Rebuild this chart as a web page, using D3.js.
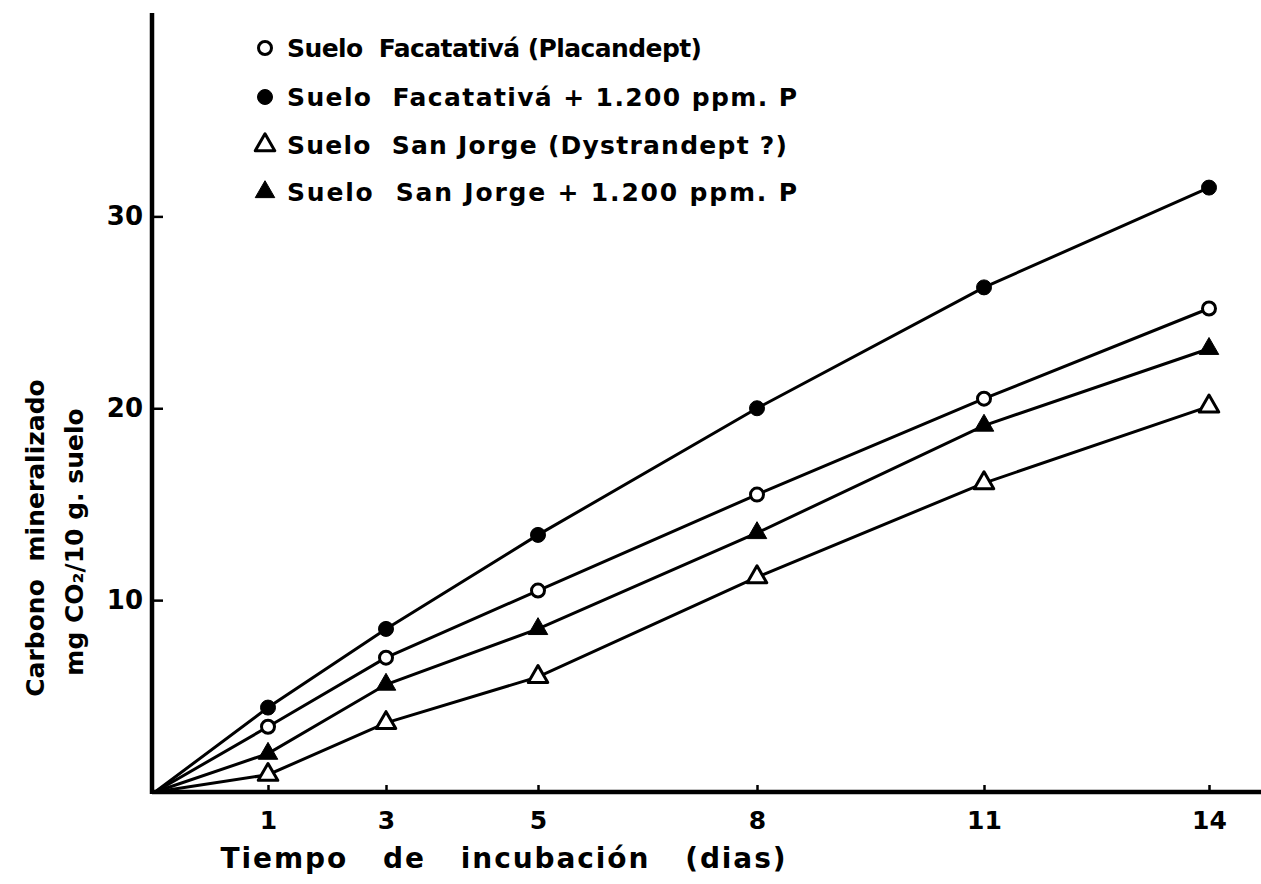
<!DOCTYPE html>
<html>
<head>
<meta charset="utf-8">
<script src="https://cdn.jsdelivr.net/npm/d3@7"></script>
<style>
  html, body { margin: 0; padding: 0; background: #fff; }
  svg { display: block; }
  text { font-family: "DejaVu Sans", sans-serif; font-weight: bold; fill: #000; }
</style>
</head>
<body>
<svg id="chart" width="1261" height="884"></svg>
<script>
// ---- data ----
const days = [0, 1, 3, 5, 8, 11, 14];
const xTickValues = [1, 3, 5, 8, 11, 14];
const yTickValues = [10, 20, 30];
const facatativa = [0, 3.4, 7.0, 10.5, 15.5, 20.5, 25.2];
const facatativaP = [0, 4.4, 8.5, 13.4, 20.0, 26.3, 31.5];
const sanJorge = [0, 0.9, 3.6, 6.0, 11.2, 16.1, 20.1];
const sanJorgeP = [0, 2.0, 5.6, 8.5, 13.5, 19.1, 23.1];
const seriesNames = [
  "Suelo  Facatativá (Placandept)",
  "Suelo  Facatativá + 1.200 ppm. P",
  "Suelo  San Jorge (Dystrandept ?)",
  "Suelo  San Jorge + 1.200 ppm. P"
];
const markerTypes = ["openCircle", "filledCircle", "openTriangle", "filledTriangle"];
const xTitleWords = ["Tiempo", "de", "incubación", "(dias)"];
const yTitle1 = "Carbono   mineralizado";
const yTitle2 = "mg CO\u2082/10 g. suelo";

const series = [facatativa, facatativaP, sanJorge, sanJorgeP].map((vals, i) => ({
  name: seriesNames[i], marker: markerTypes[i],
  points: days.map((d, j) => ({ day: d, value: vals[j] }))
}));

// ---- layout ----
const W = 1261, H = 884;
const svg = d3.select("#chart");

// hand-drawn x axis: uneven spacing between the day ticks
const x = d3.scaleLinear()
  .domain(days)
  .range([155, 268, 386, 538, 757, 984, 1209]);
const y = d3.scaleLinear().domain([0, 40.6]).range([792, 13]);

// axes lines
svg.append("line")
  .attr("x1", x(0) - 3).attr("x2", W).attr("y1", y(0)).attr("y2", y(0))
  .attr("stroke", "#000").attr("stroke-width", 4.5);
svg.append("line")
  .attr("x1", x(0) - 3).attr("x2", x(0) - 3).attr("y1", y(0) + 2).attr("y2", y(40.6))
  .attr("stroke", "#000").attr("stroke-width", 4.5);

const xAxis = d3.axisBottom(x).tickValues(xTickValues).tickSizeInner(-7).tickSizeOuter(0).tickPadding(19)
  .tickFormat(d3.format("d"));
const gx = svg.append("g").attr("transform", `translate(0,${y(0)})`).call(xAxis);
gx.select(".domain").remove();
gx.selectAll(".tick line").attr("stroke", "#000").attr("stroke-width", 2.5);
gx.selectAll(".tick text").attr("font-size", 25).attr("font-family", "'DejaVu Sans', sans-serif").attr("font-weight", "bold");

const yAxis = d3.axisLeft(y).tickValues(yTickValues).tickSizeInner(-11).tickSizeOuter(0).tickPadding(9)
  .tickFormat(d3.format("d"));
const gy = svg.append("g").attr("transform", `translate(${x(0) - 3},0)`).call(yAxis);
gy.select(".domain").remove();
gy.selectAll(".tick line").attr("stroke", "#000").attr("stroke-width", 2.5);
gy.selectAll(".tick text").attr("font-size", 26).attr("font-family", "'DejaVu Sans', sans-serif").attr("font-weight", "bold");

// x title: widely spaced words, spread across 220..785
const xt = svg.append("text").attr("x", 503).attr("y", 868).attr("text-anchor", "middle")
  .attr("font-size", 28).attr("textLength", 565).attr("lengthAdjust", "spacing");
xt.text(xTitleWords.join("   ")).style("white-space", "pre");

svg.append("text").attr("transform", "translate(44,538) rotate(-90)").attr("text-anchor", "middle")
  .attr("font-size", 25).style("word-spacing", "9px").text(yTitle1);
svg.append("text").attr("transform", "translate(83,542) rotate(-90)").attr("text-anchor", "middle")
  .attr("font-size", 25).text(yTitle2);

// lines
const line = d3.line().x(d => x(d.day)).y(d => y(d.value));
svg.append("g").selectAll("path").data(series).join("path")
  .attr("d", d => line(d.points))
  .attr("fill", "none").attr("stroke", "#000").attr("stroke-width", 3);

// markers
const triPath = d3.symbol().type(d3.symbolTriangle).size(165)();
function drawMarker(g, type, cx, cy) {
  if (type === "openCircle" || type === "filledCircle") {
    g.append("circle").attr("cx", cx).attr("cy", cy).attr("r", type === "openCircle" ? 6.5 : 7.5)
      .attr("fill", type === "openCircle" ? "#fff" : "#000")
      .attr("stroke", "#000").attr("stroke-width", type === "openCircle" ? 3 : 1);
  } else {
    g.append("path").attr("d", triPath).attr("transform", `translate(${cx},${cy})`)
      .attr("fill", type === "openTriangle" ? "#fff" : "#000")
      .attr("stroke", "#000").attr("stroke-width", type === "openTriangle" ? 3 : 1)
      .attr("stroke-linejoin", "round");
  }
}
const mg = svg.append("g");
series.forEach(s => {
  s.points.filter(p => p.day > 0).forEach(p => drawMarker(mg, s.marker, x(p.day), y(p.value)));
});

// legend
const legendY = [48, 97, 145, 192];
const legendLen = [415, 510, 500, 510];
const lg = svg.append("g");
series.forEach((s, i) => {
  drawMarker(lg, s.marker, 265, legendY[i]);
  lg.append("text").attr("x", 287).attr("y", legendY[i] + 9).attr("font-size", 25)
    .attr("textLength", legendLen[i]).attr("lengthAdjust", "spacing")
    .style("white-space", "pre").text(s.name);
});
</script>
</body>
</html>
